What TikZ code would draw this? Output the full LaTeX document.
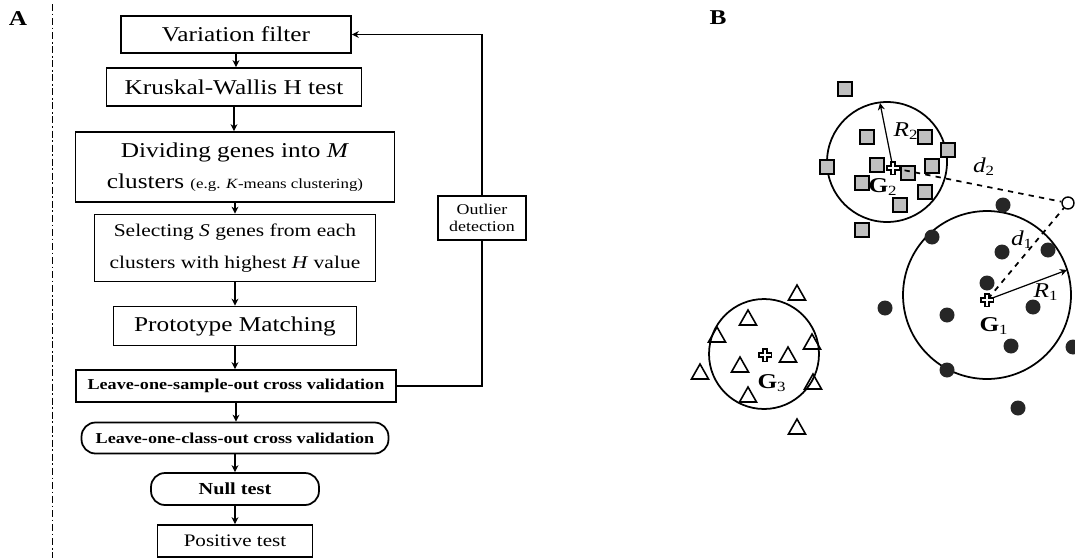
\documentclass[tikz,border=0pt]{standalone}
\usepackage{fontspec}
\setmainfont{Liberation Serif}[FakeStretch=1.2]
\usetikzlibrary{arrows.meta}

\begin{document}
\begin{tikzpicture}[x=0.02cm,y=-0.02cm,
  box/.style={draw,line width=1pt,inner sep=0pt,align=center},
  rbox/.style={box,rounded corners=0.28cm},
  arr/.style={line width=1pt,-{Stealth[length=1.4mm,width=1.4mm]}},
  sq/.style={draw,line width=0.9pt,fill=black!25},
  tri/.style={draw,line width=0.9pt},
  lbl/.style={inner sep=0pt,font=\fontsize{12}{14}\selectfont}]
\useasboundingbox (0,0) rectangle (1075,558);

% panel A
\node[lbl,font=\bfseries\fontsize{12}{14}\selectfont] (la) at (18,19) {A};
\draw[line width=0.5pt,dash pattern=on 4pt off 1.5pt on 1pt off 1.5pt] (52,4) -- (52,558);

\node[box,minimum width=4.6cm,minimum height=0.74cm,font=\fontsize{12}{14}\selectfont] (vf) at (236,34.5) {Variation filter};
\node[box,minimum width=5.1cm,minimum height=0.76cm,font=\fontsize{12}{14}\selectfont] (kw) at (234,87) {Kruskal-Wallis H test};
\node[box,minimum width=6.38cm,minimum height=1.4cm,font=\fontsize{12}{17.5}\selectfont] (dg) at (235,167)
  {Dividing genes into \textit{M}\\clusters {\fontsize{8}{9}\selectfont (e.g. \textit{K}-means clustering)}};
\node[box,minimum width=5.62cm,minimum height=1.34cm,font=\fontsize{10.2}{18}\selectfont] (sel) at (235,248)
  {Selecting \textit{S} genes from each\\clusters with highest \textit{H} value};
\node[box,minimum width=4.86cm,minimum height=0.78cm,font=\fontsize{12}{14}\selectfont] (pm) at (235,326) {Prototype Matching};
\node[box,minimum width=6.4cm,minimum height=0.64cm,font=\bfseries\fontsize{8.6}{10}\selectfont] (loso) at (236,386) {Leave-one-sample-out cross validation};
\node[rbox,minimum width=6.14cm,minimum height=0.62cm,font=\bfseries\fontsize{8.6}{10}\selectfont] (loco) at (235,438) {Leave-one-class-out cross validation};
\node[rbox,minimum width=3.36cm,minimum height=0.64cm,font=\bfseries\fontsize{9.6}{11}\selectfont] (null) at (235,489) {Null test};
\node[box,minimum width=3.1cm,minimum height=0.64cm,font=\fontsize{10}{12}\selectfont] (pos) at (235,541) {Positive test};
\node[box,minimum width=1.76cm,minimum height=0.88cm,font=\fontsize{8.5}{10}\selectfont] (od) at (482,218) {Outlier\\detection};

\foreach \a/\b in {vf/kw,kw/dg,dg/sel,sel/pm,pm/loso,loso/loco,loco/null,null/pos}
  \draw[arr] (\a.south) -- (\a.south |- \b.north);
\draw[line width=1pt] (loso.east) -| (od.south);
\draw[arr] (od.north) |- (vf.east);

% panel B
\node[lbl,font=\bfseries\fontsize{12}{14}\selectfont] (lb) at (718,18) {B};
\draw[line width=1pt] (887,162) circle[radius=1.2cm];
\draw[line width=1pt] (987,295) circle[radius=1.68cm];
\draw[line width=1pt] (764,354) circle[radius=1.1cm];

\foreach \x/\y in {845/89,867/137,925/137,948/150,827/167,877/165,908/173,932/166,862/183,925/192,900/205,862/230}
  \draw[sq] (\x-7,\y-7) rectangle (\x+7,\y+7);
\foreach \x/\y in {1003/205,932/237,1002/252,1048/250,987/283,885/308,947/315,1033/307,1011/346,1073/347,947/370,1018/408}
  \fill[black!85] (\x,\y) circle[radius=0.15cm];
\foreach \x/\y in {797/293,748/318,717/335,812/342,788/355,740/365,700/372,813/382,748/395,797/427}
  \draw[tri] (\x-8.5,\y+7) -- (\x+8.5,\y+7) -- (\x,\y-8) -- cycle;

\node[inner sep=0pt] (g1) at (987,300) {};
\node[inner sep=0pt] (g2) at (893,168) {};
\node[inner sep=0pt] (g3) at (765,355) {};
\node[draw,circle,line width=0.8pt,minimum size=0.24cm,inner sep=0pt,fill=white] (q) at (1068,203) {};
\coordinate (r1end) at (1067,270);
\coordinate (r2end) at (880,103);

\draw[line width=1pt,dashed] (g2) -- (q);
\draw[line width=1pt,dashed] (g1) -- (q);
\draw[arr,line width=0.7pt] (g2) -- (r2end);
\draw[arr,line width=0.7pt] (g1) -- (r1end);
\foreach \g in {g1,g2,g3} {
  \draw[line width=3.6pt] ([xshift=-0.14cm]\g.center) -- ([xshift=0.14cm]\g.center)
    ([yshift=-0.14cm]\g.center) -- ([yshift=0.14cm]\g.center);
  \draw[white,line width=1.6pt] ([xshift=-0.11cm]\g.center) -- ([xshift=0.11cm]\g.center)
    ([yshift=-0.11cm]\g.center) -- ([yshift=0.11cm]\g.center);
}

\node[lbl] (tr2) at (906,131) {\textit{R}\textsubscript{2}};
\node[lbl] (td2) at (984,167) {\textit{d}\textsubscript{2}};
\node[lbl] (tg2) at (883,187) {\textbf{G}\textsubscript{2}};
\node[lbl] (tr1) at (1046,292) {\textit{R}\textsubscript{1}};
\node[lbl] (td1) at (1022,240) {\textit{d}\textsubscript{1}};
\node[lbl] (tg1) at (994,326) {\textbf{G}\textsubscript{1}};
\node[lbl] (tg3) at (772,383) {\textbf{G}\textsubscript{3}};
\end{tikzpicture}
\end{document}
